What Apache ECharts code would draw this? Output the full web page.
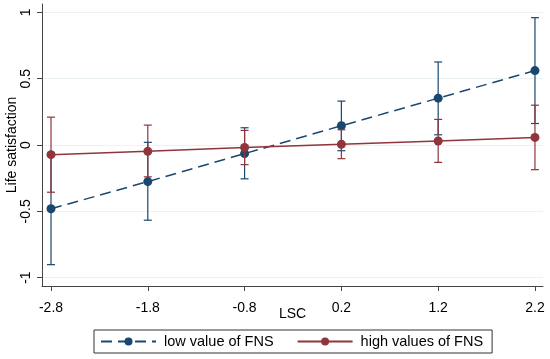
<!DOCTYPE html>
<html><head><meta charset="utf-8">
<script src="https://cdn.jsdelivr.net/npm/echarts@6/dist/echarts.min.js"></script>
<style>html,body{margin:0;padding:0;background:#fff}#c{width:550px;height:359px}</style>
</head><body><div id="c"></div>
<script>
const xValues = [-2.8, -1.8, -0.8, 0.2, 1.2, 2.2];
const yTicks = [-1, -0.5, 0, 0.5, 1];
const lowFNS = [-0.481, -0.276, -0.065, 0.145, 0.353, 0.561];
const lowFNSLower = [-0.902, -0.567, -0.255, -0.043, 0.077, 0.162];
const lowFNSUpper = [-0.06, 0.02, 0.13, 0.331, 0.626, 0.96];
const highFNS = [-0.073, -0.048, -0.018, 0.005, 0.03, 0.057];
const highFNSLower = [-0.356, -0.24, -0.148, -0.103, -0.131, -0.186];
const highFNSUpper = [0.21, 0.15, 0.11, 0.115, 0.193, 0.30];
const seriesNames = ['low value of FNS', 'high values of FNS'];

const BLUE = '#1a476f', RED = '#90353b';
const FONT = 'Liberation Sans, Arial, sans-serif';

function errData(lo, hi) { return xValues.map((x, i) => [x, lo[i], hi[i]]); }
function errSeries(lo, hi, color, z) {
  return {
    type: 'custom', z: z, silent: true,
    data: errData(lo, hi),
    encode: { x: 0, y: [1, 2] },
    renderItem: function (params, api) {
      const x = api.value(0);
      const a = api.coord([x, api.value(1)]);
      const b = api.coord([x, api.value(2)]);
      const w = 4;
      const st = { stroke: color, lineWidth: 1.2 };
      return { type: 'group', children: [
        { type: 'line', shape: { x1: a[0], y1: a[1], x2: b[0], y2: b[1] }, style: st },
        { type: 'line', shape: { x1: a[0] - w, y1: a[1], x2: a[0] + w, y2: a[1] }, style: st },
        { type: 'line', shape: { x1: b[0] - w, y1: b[1], x2: b[0] + w, y2: b[1] }, style: st }
      ]};
    }
  };
}

const chart = echarts.init(document.getElementById('c'), null, { renderer: 'canvas' });
chart.setOption({
  animation: false,
  backgroundColor: '#fff',
  textStyle: { fontFamily: FONT },
  grid: { left: 42, right: 7, top: 4, bottom: 73, containLabel: false, outerBoundsMode: 'none' },
  xAxis: {
    type: 'value', min: -2.893, max: 2.283,
    name: 'LSC', nameLocation: 'middle', nameGap: 21, nameMoveOverlap: false,
    nameTextStyle: { fontFamily: FONT, fontSize: 14, color: '#000' },
    axisLine: { show: true, onZero: false, lineStyle: { color: '#444', width: 1 } },
    axisTick: { show: true, length: 5, customValues: xValues, lineStyle: { color: '#444' } },
    axisLabel: { customValues: xValues, margin: 15, fontFamily: FONT, fontSize: 14, color: '#000',
      formatter: v => String(Math.round(v * 10) / 10) },
    splitLine: { show: false }
  },
  yAxis: {
    type: 'value', min: -1.063, max: 1.063,
    name: 'Life satisfaction', nameLocation: 'middle', nameGap: 23, nameMoveOverlap: false,
    nameTextStyle: { fontFamily: FONT, fontSize: 14, color: '#000' },
    axisLine: { show: true, onZero: false, lineStyle: { color: '#444', width: 1 } },
    axisTick: { show: true, length: 5, customValues: yTicks, lineStyle: { color: '#444' } },
    axisLabel: { customValues: yTicks, margin: 9, rotate: 90, fontFamily: FONT, fontSize: 14, color: '#000',
      formatter: v => String(v) },
    splitLine: { show: true, lineStyle: { color: '#eaf2f3', width: 1 } }
  },
  legend: {
    data: seriesNames,
    left: 94, top: 330,
    orient: 'horizontal',
    padding: [4, 9, 4, 6],
    borderColor: '#333', borderWidth: 1,
    itemWidth: 55, itemHeight: 10, itemGap: 23,
    textStyle: { fontFamily: FONT, fontSize: 14.5, color: '#000', padding: [0, 0, 0, 3] }
  },
  series: [
    errSeries(lowFNSLower, lowFNSUpper, BLUE, 2),
    {
      name: seriesNames[0], type: 'line', z: 3,
      data: xValues.map((x, i) => [x, lowFNS[i]]),
      symbol: 'circle', symbolSize: 9,
      itemStyle: { color: BLUE },
      lineStyle: { color: BLUE, width: 1.5, type: [11, 6] }
    },
    errSeries(highFNSLower, highFNSUpper, RED, 4),
    {
      name: seriesNames[1], type: 'line', z: 5,
      data: xValues.map((x, i) => [x, highFNS[i]]),
      symbol: 'circle', symbolSize: 9,
      itemStyle: { color: RED },
      lineStyle: { color: RED, width: 1.5 }
    }
  ]
});
</script></body></html>
